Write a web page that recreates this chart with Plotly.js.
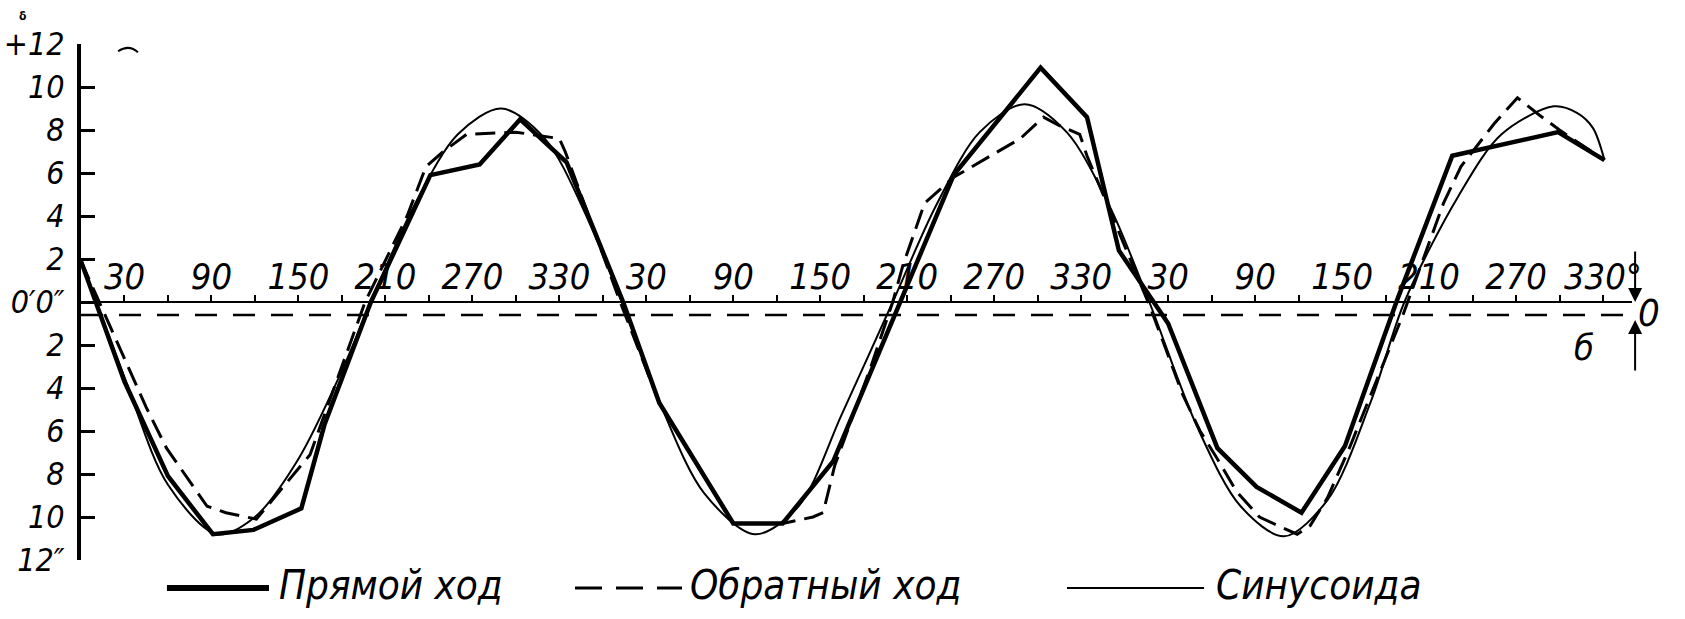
<!DOCTYPE html>
<html>
<head>
<meta charset="utf-8">
<script src="https://cdn.plot.ly/plotly-3.0.1.min.js"></script>
<style>
  html, body { margin: 0; padding: 0; background: #ffffff; }
  #chart { width: 1685px; height: 619px; }
</style>
</head>
<body>
<div id="chart"></div>
<script>
// ---- Data (angle in degrees, error in seconds) ----
const forwardAngle = [0, 30, 60, 91, 119, 152, 168, 200, 241, 275, 303, 335, 374, 399, 450, 484, 519, 549, 602, 662, 694, 716, 750, 784, 811, 842, 872, 908, 946, 1019, 1051];
const forwardError = [1.9, -3.7, -8.1, -10.8, -10.6, -9.6, -5.7, 0, 5.9, 6.4, 8.5, 6.5, 0, -4.7, -10.3, -10.3, -7.4, -2.6, 5.9, 10.9, 8.6, 2.4, -1.0, -6.8, -8.6, -9.8, -6.7, 0.1, 6.8, 7.9, 6.6];

const reverseAngle = [0, 45, 59, 87, 100, 121, 158, 196, 225, 238, 250, 266, 300, 330, 334, 372, 399, 450, 484, 505, 512, 520, 545, 560, 567, 582, 602, 625, 648, 664, 675, 689, 694, 738, 760, 772, 784, 797, 813, 829, 839, 848, 860, 875, 898, 912, 940, 952, 975, 991, 1006, 1020, 1051];
const reverseError = [1.9, -4.9, -6.8, -9.5, -9.8, -10.1, -7.1, 0, 4.0, 6.3, 7.0, 7.8, 7.9, 7.6, 7.0, 0, -4.7, -10.3, -10.3, -10.0, -9.8, -7.6, -3.0, 0, 1.7, 4.6, 5.8, 6.7, 7.6, 8.6, 8.2, 7.8, 6.8, -0.3, -4.3, -6.0, -7.3, -8.8, -10.0, -10.5, -10.8, -10.4, -9.1, -6.8, -2.9, -0.6, 4.6, 6.3, 8.3, 9.5, 8.7, 8.0, 6.6];

const sineAngle = [0, 30, 60, 94, 120, 150, 180, 200, 230, 260, 290, 320, 350, 373, 400, 430, 465, 495, 525, 560, 590, 620, 651, 680, 710, 737, 770, 800, 830, 860, 890, 913, 950, 980, 1016, 1032, 1043, 1051];
const sineError = [1.9, -3.5, -8.5, -10.8, -10.0, -7.3, -3.2, 0, 4.5, 7.8, 9.0, 7.6, 3.8, 0, -4.8, -8.9, -10.8, -9.5, -5.2, 0, 4.5, 7.9, 9.2, 7.9, 4.4, 0, -5.8, -9.5, -10.9, -9.2, -4.6, 0, 4.9, 7.8, 9.1, 8.8, 8.1, 6.6];

const baselineOffset = -0.6;   // dashed reference line (б)

const seriesNames = ['Прямой ход', 'Обратный ход', 'Синусоида'];

const cycleTickLabels = ['30', '90', '150', '210', '270', '330'];
const lastTickLabel = '330°';
const yTickValues = [12, 10, 8, 6, 4, 2, 0, -2, -4, -6, -8, -10, -12];
const yTickLabels = ['+12', '10', '8', '6', '4', '2', '0′0″', '2', '4', '6', '8', '10', '12″'];

// ---- Build x tick arrays (every 30°, labelled every 60°) ----
const xTickVals = [];
const xTickText = [];
for (let a = 30; a <= 1050; a += 30) {
  xTickVals.push(a);
  if ((a - 30) % 60 === 0) {
    const idx = ((a - 30) / 60) % cycleTickLabels.length;
    xTickText.push(a === 1050 ? lastTickLabel : cycleTickLabels[idx]);
  } else {
    xTickText.push('');
  }
}

const FONT = "'Liberation Sans Narrow', 'DejaVu Sans Condensed', 'Liberation Sans', sans-serif";

const traces = [
  { x: sineAngle, y: sineError, name: seriesNames[2], type: 'scatter', mode: 'lines',
    line: { color: '#000', width: 2, shape: 'spline', smoothing: 0.9 } },
  { x: reverseAngle, y: reverseError, name: seriesNames[1], type: 'scatter', mode: 'lines',
    line: { color: '#000', width: 3, dash: '20px,9px' } },
  { x: forwardAngle, y: forwardError, name: seriesNames[0], type: 'scatter', mode: 'lines',
    line: { color: '#000', width: 4.5 } }
];

const legendY = -0.0543;
const shapes = [
  { type: 'line', xref: 'paper', yref: 'y', x0: 0, x1: 1.0, y0: baselineOffset, y1: baselineOffset,
    line: { color: '#000', width: 2.5, dash: '22px,16px' } },
  // legend samples
  { type: 'line', xref: 'paper', yref: 'paper', x0: 0.0554, x1: 0.1212, y0: legendY, y1: legendY,
    line: { color: '#000', width: 6 } },
  { type: 'line', xref: 'paper', yref: 'paper', x0: 0.3185, x1: 0.3875, y0: legendY, y1: legendY,
    line: { color: '#000', width: 3, dash: '27px,14px' } },
  { type: 'line', xref: 'paper', yref: 'paper', x0: 0.6357, x1: 0.7241, y0: legendY, y1: legendY,
    line: { color: '#000', width: 2 } },
  // small stray arc near top of axis
  { type: 'path', xref: 'paper', yref: 'paper', path: 'M 0.0239 0.986 Q 0.031 1.0 0.0367 0.984',
    line: { color: '#000', width: 2 } }
];

const txtFont = (size) => ({ family: FONT, size: size, color: '#000', style: 'italic' });

const annotations = [
  { xref: 'paper', yref: 'paper', x: 0.1264, y: -0.0484, xanchor: 'left', yanchor: 'middle',
    text: seriesNames[0], showarrow: false, font: txtFont(40) },
  { xref: 'paper', yref: 'paper', x: 0.3914, y: -0.0484, xanchor: 'left', yanchor: 'middle',
    text: seriesNames[1], showarrow: false, font: txtFont(40) },
  { xref: 'paper', yref: 'paper', x: 0.7305, y: -0.0484, xanchor: 'left', yanchor: 'middle',
    text: seriesNames[2], showarrow: false, font: txtFont(40) },
  { xref: 'paper', yref: 'paper', x: -0.041, y: 1.071, text: 'δ', showarrow: false,
    font: { family: FONT, size: 12, color: '#000', weight: 'bold' } },
  { xref: 'paper', yref: 'paper', x: 1.0195, y: 0.4787, text: '0', showarrow: false, font: txtFont(38) },
  { xref: 'paper', yref: 'paper', x: 0.9768, y: 0.4109, text: 'б', showarrow: false, font: txtFont(36) },
  // arrows marking the offset б
  { xref: 'paper', yref: 'paper', x: 1.002, y: 0.5, ax: 0, ay: -52, text: '', showarrow: true,
    arrowhead: 2, arrowsize: 1.4, arrowwidth: 2, arrowcolor: '#000' },
  { xref: 'paper', yref: 'paper', x: 1.002, y: 0.4651, ax: 0, ay: 52, text: '', showarrow: true,
    arrowhead: 2, arrowsize: 1.4, arrowwidth: 2, arrowcolor: '#000' }
];

const layout = {
  width: 1685, height: 619,
  margin: { l: 81, r: 53, t: 44, b: 59, pad: 0 },
  paper_bgcolor: '#fff', plot_bgcolor: '#fff',
  showlegend: false,
  xaxis: {
    range: [0, 1070], anchor: 'free', position: 0.5, side: 'top',
    showline: true, linecolor: '#000', linewidth: 2,
    showgrid: false, zeroline: false,
    tickmode: 'array', tickvals: xTickVals, ticktext: xTickText,
    ticks: 'outside', ticklen: 6, tickwidth: 2, tickcolor: '#000',
    tickfont: txtFont(36), tickangle: 0, ticklabelstandoff: -8
  },
  yaxis: {
    range: [-12, 12],
    showline: true, linecolor: '#000', linewidth: 4,
    showgrid: false, zeroline: false,
    tickmode: 'array', tickvals: yTickValues, ticktext: yTickLabels,
    ticks: 'inside', ticklen: 14, tickwidth: 3, tickcolor: '#000',
    tickfont: txtFont(32), ticklabelstandoff: 6
  },
  shapes: shapes,
  annotations: annotations
};

Plotly.newPlot('chart', traces, layout, { staticPlot: true, displayModeBar: false });
</script>
</body>
</html>
